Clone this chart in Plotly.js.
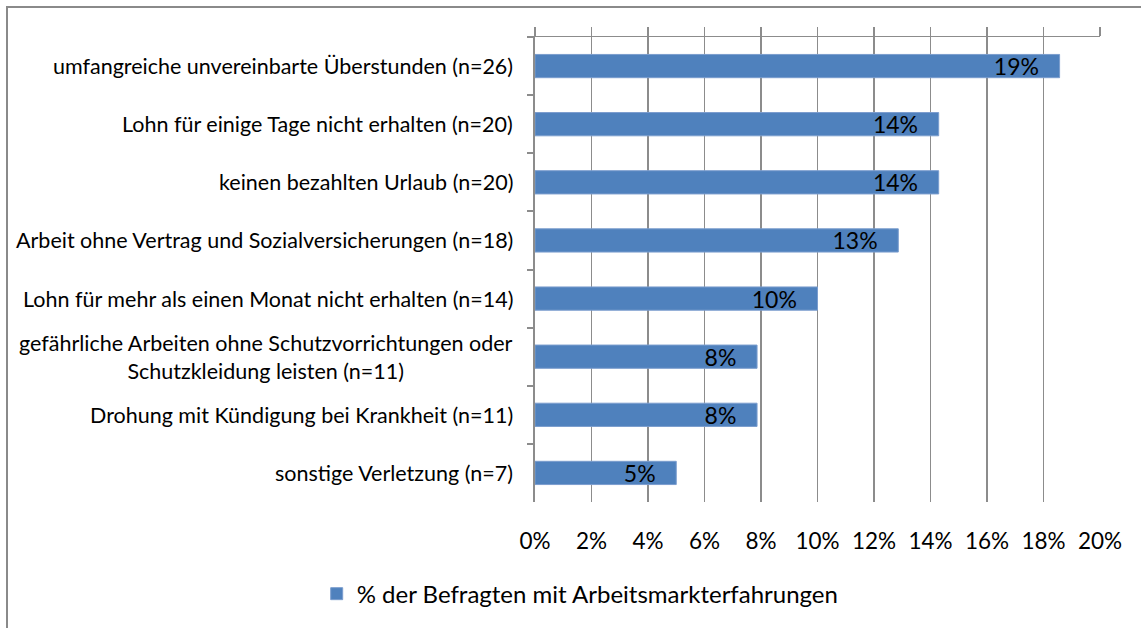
<!DOCTYPE html>
<html>
<head>
<meta charset="utf-8">
<script src="https://cdn.plot.ly/plotly-3.0.1.min.js"></script>
<style>
  html, body { margin: 0; padding: 0; background: #fff; }
  #wrap { position: relative; width: 1141px; height: 628px; overflow: hidden; }
  #chart { position: absolute; left: 0; top: 0; width: 1141px; height: 628px; }
  #frame { position: absolute; left: 6px; top: 6px; width: 1300px; height: 800px;
           border-left: 2px solid #8a8a8a; border-top: 2px solid #8a8a8a; pointer-events: none; }
</style>
</head>
<body>
<div id="wrap">
  <div id="chart"></div>
  <div id="frame"></div>
</div>
<script>
const categories = [
  "umfangreiche unvereinbarte Überstunden (n=26)",
  "Lohn für einige Tage nicht erhalten (n=20)",
  "keinen bezahlten Urlaub (n=20)",
  "Arbeit ohne Vertrag und Sozialversicherungen (n=18)",
  "Lohn für mehr als einen Monat nicht erhalten (n=14)",
  "gefährliche Arbeiten ohne Schutzvorrichtungen oder<br>Schutzkleidung leisten (n=11)",
  "Drohung mit Kündigung bei Krankheit (n=11)",
  "sonstige Verletzung (n=7)"
];
const values = [18.57, 14.29, 14.29, 12.86, 10.0, 7.86, 7.86, 5.0];
const seriesName = "% der Befragten mit Arbeitsmarkterfahrungen";
const xTicks = [0, 2, 4, 6, 8, 10, 12, 14, 16, 18, 20];

const FONT = "Lato, 'Open Sans', sans-serif";
const GRID = "#8c8c8c";

const traces = [
  {
    type: "bar",
    orientation: "h",
    x: values,
    y: categories,
    name: seriesName,
    marker: { color: "#4F81BD", line: { color: "#7B9DCE", width: 1 } },
    texttemplate: "%{x:.0f}%\u00a0\u00a0\u00a0",
    textposition: "inside",
    insidetextanchor: "end",
    constraintext: "none",
    textfont: { family: FONT, size: 23, color: "#000" },
    hoverinfo: "skip",
    showlegend: true
  },
  {
    type: "scatter",
    mode: "markers",
    x: values,
    y: categories,
    xaxis: "x2",
    yaxis: "y",
    marker: { opacity: 0 },
    hoverinfo: "skip",
    showlegend: false
  }
];

const annotations = categories.map(c => ({
  xref: "paper", yref: "y",
  x: 0, y: c,
  xanchor: "right", yanchor: "middle",
  xshift: -20,
  text: c,
  align: "center",
  showarrow: false,
  font: { family: FONT, size: 21.5, color: "#000" }
}));

const layout = {
  width: 1141, height: 628,
  margin: { l: 535, r: 41, t: 37, b: 126 },
  paper_bgcolor: "#fff",
  plot_bgcolor: "#fff",
  font: { family: FONT, size: 21, color: "#000" },
  bargap: 0.6,
  xaxis: {
    range: [0, 20],
    tickvals: xTicks,
    ticktext: xTicks.map(v => v + "%"),
    showgrid: true, gridcolor: GRID, gridwidth: 1.5,
    zeroline: false,
    showline: false,
    ticks: "",
    ticklabelstandoff: 23,
    tickfont: { family: FONT, size: 22.5, color: "#000" },
    fixedrange: true
  },
  xaxis2: {
    overlaying: "x", side: "top", anchor: "y",
    matches: "x",
    range: [0, 20],
    tickvals: xTicks,
    showgrid: false, zeroline: false,
    showline: true, linecolor: GRID, linewidth: 1.5,
    ticks: "outside", ticklen: 9, tickcolor: GRID, tickwidth: 1.5,
    showticklabels: false
  },
  yaxis: {
    type: "category",
    autorange: "reversed",
    showgrid: false, zeroline: false,
    showline: true, linecolor: GRID, linewidth: 2,
    ticks: "outside", ticklen: 6, tickcolor: GRID, tickwidth: 2,
    tickson: "boundaries",
    showticklabels: false
  },
  showlegend: true,
  legend: {
    orientation: "h",
    x: 0.08, xanchor: "center",
    y: -0.198, yanchor: "middle",
    font: { family: FONT, size: 24, color: "#000" },
    bgcolor: "rgba(0,0,0,0)"
  },
  annotations: annotations
};

Plotly.newPlot("chart", traces, layout, { displayModeBar: false, staticPlot: true });
</script>
</body>
</html>
